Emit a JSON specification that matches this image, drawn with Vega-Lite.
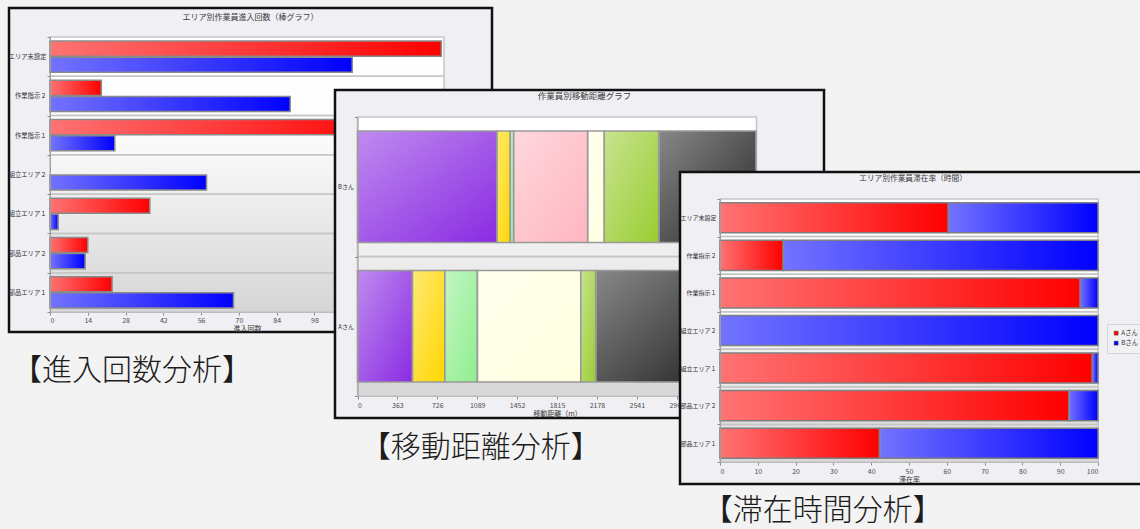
{
  "$schema": "https://vega.github.io/schema/vega-lite/v6.json",
  "background": "#f3f3f3",
  "padding": {"left": 6, "top": 3, "right": 0, "bottom": 6},
  "datasets": {
    "entries": [
      {"area": "エリア未設定", "person": "Aさん", "count": 145},
      {"area": "エリア未設定", "person": "Bさん", "count": 112},
      {"area": "作業指示２", "person": "Aさん", "count": 19},
      {"area": "作業指示２", "person": "Bさん", "count": 89},
      {"area": "作業指示１", "person": "Aさん", "count": 128},
      {"area": "作業指示１", "person": "Bさん", "count": 24},
      {"area": "組立エリア２", "person": "Bさん", "count": 58},
      {"area": "組立エリア１", "person": "Aさん", "count": 37},
      {"area": "組立エリア１", "person": "Bさん", "count": 3},
      {"area": "部品エリア２", "person": "Aさん", "count": 14},
      {"area": "部品エリア２", "person": "Bさん", "count": 13},
      {"area": "部品エリア１", "person": "Aさん", "count": 23},
      {"area": "部品エリア１", "person": "Bさん", "count": 68}
    ],
    "distance": [
      {"person": "Bさん", "area": "部品エリア１", "seq": 1, "dist": 1269},
      {"person": "Bさん", "area": "部品エリア２", "seq": 2, "dist": 121},
      {"person": "Bさん", "area": "組立エリア１", "seq": 3, "dist": 31},
      {"person": "Bさん", "area": "組立エリア２", "seq": 4, "dist": 673},
      {"person": "Bさん", "area": "作業指示１", "seq": 5, "dist": 151},
      {"person": "Bさん", "area": "作業指示２", "seq": 6, "dist": 495},
      {"person": "Bさん", "area": "エリア未設定", "seq": 7, "dist": 885},
      {"person": "Aさん", "area": "部品エリア１", "seq": 1, "dist": 500},
      {"person": "Aさん", "area": "部品エリア２", "seq": 2, "dist": 294},
      {"person": "Aさん", "area": "組立エリア１", "seq": 3, "dist": 297},
      {"person": "Aさん", "area": "作業指示１", "seq": 5, "dist": 940},
      {"person": "Aさん", "area": "作業指示２", "seq": 6, "dist": 136},
      {"person": "Aさん", "area": "エリア未設定", "seq": 7, "dist": 1150}
    ],
    "stay": [
      {"area": "エリア未設定", "person": "Aさん", "pct": 60.4},
      {"area": "エリア未設定", "person": "Bさん", "pct": 39.6},
      {"area": "作業指示２", "person": "Aさん", "pct": 16.7},
      {"area": "作業指示２", "person": "Bさん", "pct": 83.3},
      {"area": "作業指示１", "person": "Aさん", "pct": 95.3},
      {"area": "作業指示１", "person": "Bさん", "pct": 4.7},
      {"area": "組立エリア２", "person": "Bさん", "pct": 100},
      {"area": "組立エリア１", "person": "Aさん", "pct": 98.5},
      {"area": "組立エリア１", "person": "Bさん", "pct": 1.5},
      {"area": "部品エリア２", "person": "Aさん", "pct": 92.3},
      {"area": "部品エリア２", "person": "Bさん", "pct": 7.7},
      {"area": "部品エリア１", "person": "Aさん", "pct": 42.2},
      {"area": "部品エリア１", "person": "Bさん", "pct": 57.8}
    ]
  },
  "columns": 2,
  "align": "none",
  "spacing": -161,
  "resolve": {"scale": {"x": "independent", "y": "independent", "color": "independent", "yOffset": "independent"}},
  "concat": [
    {
      "title": {"text": "【進入回数分析】", "orient": "bottom", "anchor": "start", "frame": "bounds", "offset": 23, "dx": 5, "fontSize": 30, "fontWeight": 300, "color": "#1c1c1c"},
      "vconcat": [
        {
          "width": 483,
          "height": 324,
          "view": {"fill": "#efeff4", "stroke": "#111111", "strokeWidth": 2.5},
          "title": {"text": "エリア別作業員進入回数（棒グラフ）", "frame": "group", "anchor": "middle", "offset": -17, "fontSize": 8},
          "resolve": {"scale": {"y": "independent"}},
          "layer": [
            {
              "data": {"values": [{"panel": "plot"}]},
              "mark": {"type": "rect", "fill": {"gradient": "linear", "x1": 0, "y1": 0, "x2": 0, "y2": 1, "stops": [{"offset": 0, "color": "#ffffff"}, {"offset": 0.35, "color": "#fcfcfc"}, {"offset": 1, "color": "#d5d5d5"}]}},
              "encoding": {
                "x": {"datum": 0, "type": "quantitative", "scale": {"domain": [0, 146], "range": [41, 435], "nice": false}, "axis": {"title": "進入回数", "values": [0, 14, 28, 42, 56, 70, 84, 98], "offset": -20, "labelPadding": 1}},
                "x2": {"datum": 146},
                "y": {"datum": 0, "type": "quantitative", "scale": {"domain": [0, 1], "range": [304, 29]}, "axis": null},
                "y2": {"datum": 1}
              }
            },
            {
              "data": {"name": "entries"},
              "encoding": {
                "y": {
                  "field": "area", "type": "nominal",
                  "sort": ["エリア未設定", "作業指示２", "作業指示１", "組立エリア２", "組立エリア１", "部品エリア２", "部品エリア１"],
                  "scale": {"range": [29, 304], "paddingInner": 0, "paddingOuter": 0},
                  "axis": {"title": null, "offset": -41, "tickBand": "extent", "labelPadding": 1, "labelFontSize": 6.3, "labelColor": "#333333"}
                }
              },
              "layer": [
                {
                  "transform": [{"filter": "datum.person === 'Bさん'"}],
                  "mark": {"type": "rect", "fill": "transparent", "stroke": "#c6c6c6", "strokeWidth": 1.5},
                  "encoding": {
                    "x": {"datum": 0, "type": "quantitative", "scale": {"domain": [0, 146], "range": [41, 435], "nice": false}, "axis": {"title": "進入回数", "values": [0, 14, 28, 42, 56, 70, 84, 98], "offset": -20, "labelPadding": 1}},
                    "x2": {"datum": 146}
                  }
                },
                {
                  "mark": {"type": "bar"},
                  "encoding": {
                    "x": {"field": "count", "type": "quantitative", "scale": {"domain": [0, 146], "range": [41, 435], "nice": false}, "axis": {"title": "進入回数", "values": [0, 14, 28, 42, 56, 70, 84, 98], "offset": -20, "labelPadding": 1}},
                    "yOffset": {"field": "person", "type": "nominal", "scale": {"domain": ["Aさん", "Bさん"], "paddingInner": 0.0625, "paddingOuter": 0.25}},
                    "color": {"field": "person", "type": "nominal", "scale": {"domain": ["Aさん", "Bさん"], "range": ["#ff0000", "#0000ff"]}, "legend": null}
                  }
                },
                {
                  "mark": {"type": "bar", "fill": {"gradient": "linear", "x1": 0, "y1": 0, "x2": 1, "y2": 0, "stops": [{"offset": 0, "color": "rgba(255,255,255,0.45)"}, {"offset": 1, "color": "rgba(255,255,255,0)"}]}, "stroke": "#8a8a8a", "strokeWidth": 1.5},
                  "encoding": {
                    "x": {"field": "count", "type": "quantitative", "scale": {"domain": [0, 146], "range": [41, 435], "nice": false}, "axis": {"title": "進入回数", "values": [0, 14, 28, 42, 56, 70, 84, 98], "offset": -20, "labelPadding": 1}},
                    "yOffset": {"field": "person", "type": "nominal"}
                  }
                }
              ]
            }
          ]
        }
      ]
    },
    {
      "columns": 1,
      "align": "none",
      "spacing": 0,
      "resolve": {"scale": {"x": "independent", "y": "independent", "color": "independent"}},
      "concat": [
        {"width": 1, "height": 77, "data": {"values": []}, "mark": "point", "view": {"stroke": null, "fill": null}},
        {
          "columns": 2,
          "align": "none",
          "spacing": -148,
          "resolve": {"scale": {"x": "independent", "y": "independent", "color": "independent"}},
          "concat": [
            {
              "title": {"text": "【移動距離分析】", "orient": "bottom", "anchor": "start", "frame": "bounds", "offset": 14, "dx": 27, "fontSize": 30, "fontWeight": 300, "color": "#1c1c1c"},
              "vconcat": [
                {
                  "width": 489,
                  "height": 328,
                  "view": {"fill": "#efeff4", "stroke": "#111111", "strokeWidth": 2.5},
                  "title": {"text": "作業員別移動距離グラフ", "frame": "group", "anchor": "middle", "offset": -13, "dx": 5, "fontSize": 8.5},
                  "resolve": {"scale": {"y": "independent"}},
                  "layer": [
                    {
                      "data": {"values": [{"panel": "plot"}]},
                      "mark": {"type": "rect", "fill": {"gradient": "linear", "x1": 0, "y1": 0, "x2": 0, "y2": 1, "stops": [{"offset": 0, "color": "#ffffff"}, {"offset": 0.12, "color": "#ffffff"}, {"offset": 1, "color": "#d6d6d6"}]}},
                      "encoding": {
                        "x": {"datum": 0, "type": "quantitative", "scale": {"domain": [0, 3630], "range": [22.5, 421.5], "nice": false}, "axis": {"title": "移動距離（m）", "format": "d", "values": [0, 363, 726, 1089, 1452, 1815, 2178, 2541, 2904], "offset": -22}},
                        "x2": {"datum": 3630},
                        "y": {"datum": 0, "type": "quantitative", "scale": {"domain": [0, 1], "range": [306, 27]}, "axis": null},
                        "y2": {"datum": 1}
                      }
                    },
                    {
                      "data": {"name": "distance"},
                      "transform": [{"stack": "dist", "groupby": ["person"], "sort": [{"field": "seq", "order": "ascending"}], "as": ["d0", "d1"]}],
                      "encoding": {
                        "y": {
                          "field": "person", "type": "nominal", "sort": ["Bさん", "Aさん"],
                          "scale": {"range": [27, 306], "paddingInner": 0, "paddingOuter": 0},
                          "axis": {"title": null, "offset": -22.5, "tickBand": "extent", "labelPadding": 1, "labelFontSize": 6, "labelColor": "#333333"}
                        }
                      },
                      "layer": [
                        {
                          "transform": [{"filter": "datum.seq === 1"}],
                          "mark": {"type": "rect", "fill": "transparent", "stroke": "#c6c6c6", "strokeWidth": 1.5},
                          "encoding": {
                            "x": {"datum": 0, "type": "quantitative", "scale": {"domain": [0, 3630], "range": [22.5, 421.5], "nice": false}, "axis": {"title": "移動距離（m）", "format": "d", "values": [0, 363, 726, 1089, 1452, 1815, 2178, 2541, 2904], "offset": -22}},
                            "x2": {"datum": 3630}
                          }
                        },
                        {
                          "mark": {"type": "bar", "height": {"band": 0.8}},
                          "encoding": {
                            "x": {"field": "d0", "type": "quantitative", "scale": {"domain": [0, 3630], "range": [22.5, 421.5], "nice": false}, "axis": {"title": "移動距離（m）", "format": "d", "values": [0, 363, 726, 1089, 1452, 1815, 2178, 2541, 2904], "offset": -22}},
                            "x2": {"field": "d1"},
                            "color": {
                              "field": "area", "type": "nominal",
                              "scale": {
                                "domain": ["部品エリア１", "部品エリア２", "組立エリア１", "組立エリア２", "作業指示１", "作業指示２", "エリア未設定"],
                                "range": ["#8a2be2", "#ffd700", "#90ee90", "#ffb6c1", "#ffffe0", "#9acd32", "#262626"]
                              },
                              "legend": null
                            }
                          }
                        },
                        {
                          "mark": {"type": "bar", "height": {"band": 0.8}, "fill": {"gradient": "linear", "x1": 0, "y1": 0, "x2": 1, "y2": 1, "stops": [{"offset": 0, "color": "rgba(255,255,255,0.45)"}, {"offset": 1, "color": "rgba(255,255,255,0)"}]}, "stroke": "#999999", "strokeWidth": 1.5},
                          "encoding": {
                            "x": {"field": "d0", "type": "quantitative", "scale": {"domain": [0, 3630], "range": [22.5, 421.5], "nice": false}, "axis": {"title": "移動距離（m）", "format": "d", "values": [0, 363, 726, 1089, 1452, 1815, 2178, 2541, 2904], "offset": -22}},
                            "x2": {"field": "d1"}
                          }
                        }
                      ]
                    }
                  ]
                }
              ]
            },
            {
              "columns": 1,
              "align": "none",
              "spacing": 0,
              "resolve": {"scale": {"x": "independent", "y": "independent", "color": "independent"}},
              "concat": [
                {"width": 1, "height": 77, "data": {"values": []}, "mark": "point", "view": {"stroke": null, "fill": null}},
                {
                  "title": {"text": "【滞在時間分析】", "orient": "bottom", "anchor": "start", "frame": "bounds", "offset": 11, "dx": 24, "fontSize": 30, "fontWeight": 300, "color": "#1c1c1c"},
                  "resolve": {"scale": {"color": "independent"}},
                  "vconcat": [
                    {
                      "width": 466,
                      "height": 312,
                      "view": {"fill": "#efeff4", "stroke": "#111111", "strokeWidth": 2.5},
                      "title": {"text": "エリア別作業員滞在率（時間）", "frame": "group", "anchor": "middle", "offset": -14, "fontSize": 7.7},
                      "resolve": {"scale": {"y": "independent"}},
                      "layer": [
                        {
                          "data": {"values": [{"panel": "plot"}]},
                          "mark": {"type": "rect", "fill": {"gradient": "linear", "x1": 0, "y1": 0, "x2": 0, "y2": 1, "stops": [{"offset": 0, "color": "#ffffff"}, {"offset": 0.4, "color": "#fbfbfb"}, {"offset": 1, "color": "#d8d8d8"}]}},
                          "encoding": {
                            "x": {"datum": 0, "type": "quantitative", "scale": {"domain": [0, 100], "range": [40, 418], "nice": false}, "axis": {"title": "滞在率", "values": [0, 10, 20, 30, 40, 50, 60, 70, 80, 90, 100], "offset": -22}},
                            "x2": {"datum": 100},
                            "y": {"datum": 0, "type": "quantitative", "scale": {"domain": [0, 1], "range": [290, 27]}, "axis": null},
                            "y2": {"datum": 1}
                          }
                        },
                        {
                          "data": {"name": "stay"},
                          "transform": [{"stack": "pct", "groupby": ["area"], "sort": [{"field": "person", "order": "ascending"}], "as": ["p0", "p1"]}],
                          "encoding": {
                            "y": {
                              "field": "area", "type": "nominal",
                              "sort": ["エリア未設定", "作業指示２", "作業指示１", "組立エリア２", "組立エリア１", "部品エリア２", "部品エリア１"],
                              "scale": {"range": [27, 290], "paddingInner": 0, "paddingOuter": 0},
                              "axis": {"title": null, "offset": -40, "tickBand": "extent", "labelPadding": 1, "labelFontSize": 6, "labelColor": "#333333"}
                            }
                          },
                          "layer": [
                            {
                              "transform": [{"filter": "datum.person === 'Bさん'"}],
                              "mark": {"type": "rect", "fill": "transparent", "stroke": "#c6c6c6", "strokeWidth": 1.5},
                              "encoding": {
                                "x": {"datum": 0, "type": "quantitative", "scale": {"domain": [0, 100], "range": [40, 418], "nice": false}, "axis": {"title": "滞在率", "values": [0, 10, 20, 30, 40, 50, 60, 70, 80, 90, 100], "offset": -22}},
                                "x2": {"datum": 100}
                              }
                            },
                            {
                              "mark": {"type": "bar", "height": {"band": 0.8}},
                              "encoding": {
                                "x": {"field": "p0", "type": "quantitative", "scale": {"domain": [0, 100], "range": [40, 418], "nice": false}, "axis": {"title": "滞在率", "values": [0, 10, 20, 30, 40, 50, 60, 70, 80, 90, 100], "offset": -22}},
                                "x2": {"field": "p1"},
                                "color": {
                                  "field": "person", "type": "nominal",
                                  "scale": {"domain": ["Aさん", "Bさん"], "range": ["#ff0000", "#0000ff"]},
                                  "legend": {"title": null, "orient": "none", "legendX": 427, "legendY": 152, "symbolType": "square", "symbolSize": 16, "symbolStrokeColor": "#555555", "symbolStrokeWidth": 0.5, "labelFontSize": 6.3, "labelColor": "#333333", "fillColor": "#f1f1f3", "strokeColor": "#d6d6d6", "padding": 6, "rowPadding": 3, "labelOffset": 2}
                                }
                              }
                            },
                            {
                              "mark": {"type": "bar", "height": {"band": 0.8}, "fill": {"gradient": "linear", "x1": 0, "y1": 0, "x2": 1, "y2": 0, "stops": [{"offset": 0, "color": "rgba(255,255,255,0.45)"}, {"offset": 1, "color": "rgba(255,255,255,0)"}]}, "stroke": "#808080", "strokeWidth": 1.5},
                              "encoding": {
                                "x": {"field": "p0", "type": "quantitative", "scale": {"domain": [0, 100], "range": [40, 418], "nice": false}, "axis": {"title": "滞在率", "values": [0, 10, 20, 30, 40, 50, 60, 70, 80, 90, 100], "offset": -22}},
                                "x2": {"field": "p1"}
                              }
                            }
                          ]
                        }
                      ]
                    }
                  ]
                }
              ]
            }
          ]
        }
      ]
    }
  ],
  "config": {
    "font": "Noto Sans CJK JP",
    "view": {"stroke": null},
    "axis": {
      "labelFontSize": 7,
      "labelColor": "#4d4d4d",
      "titleFontSize": 7,
      "titleFontWeight": "normal",
      "titleColor": "#3a3a3a",
      "domainColor": "#9d9d9d",
      "tickColor": "#8c8c8c",
      "tickSize": 3,
      "grid": false,
      "labelPadding": 2,
      "titlePadding": 1
    },
    "title": {"fontSize": 8, "fontWeight": "normal", "color": "#3c3c3c"}
  }
}
